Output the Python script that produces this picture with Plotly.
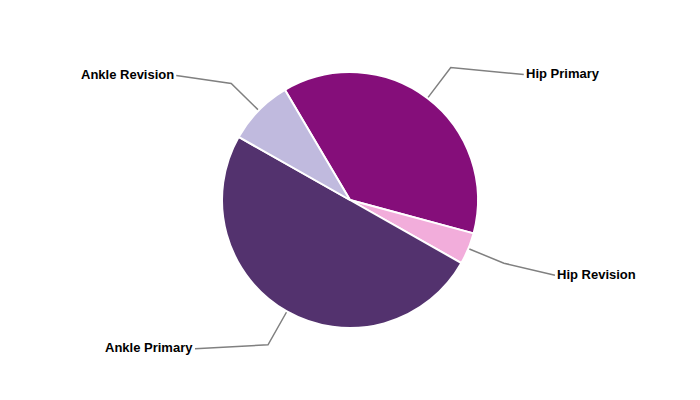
import math
import plotly.graph_objects as go

labels = ["Hip Primary", "Hip Revision", "Ankle Primary", "Ankle Revision"]
values = [37.7, 4.0, 50.0, 8.3]
colors = ["#850E7A", "#F2ADDB", "#53326E", "#C0BADE"]

W, H = 700, 400
OFF = 8  # page body margin in the browser
CX, CY, R = 350 - OFF, 200 - OFF, 128
ROT = -30.6

# label placement nudges (pixels) for the final segment of each leader line
label_dx = [73, 51, 73, 55]
label_dy = [7, 12, 4, -8]

fig = go.Figure(go.Pie(
    labels=labels, values=values, sort=False, direction="clockwise",
    rotation=ROT, textinfo="none", hoverinfo="label+percent",
    marker=dict(colors=colors, line=dict(color="white", width=2)),
    domain=dict(x=[(CX - R) / W, (CX + R) / W], y=[(H - CY - R) / H, (H - CY + R) / H]),
    showlegend=False,
))

def px(x, y):
    return x / W, 1 - y / H

shapes, annotations = [], []
total = sum(values)
acc = 0.0
for lab, v, ddx, dy in zip(labels, values, label_dx, label_dy):
    mid = math.radians(ROT + (acc + v / 2) / total * 360)
    acc += v
    s, c = math.sin(mid), math.cos(mid)
    x0, y0 = CX + (R + 1) * s, CY - (R + 1) * c
    x1, y1 = CX + 1.3 * R * s, CY - 1.3 * R * c
    side = 1 if s > 0 else -1
    x2, y2 = x1 + side * ddx, y1 + dy
    a, b = px(x0, y0); cc, d = px(x1, y1); e, f = px(x2, y2)
    shapes.append(dict(type="path", xref="paper", yref="paper",
                       path=f"M {a},{b} L {cc},{d} L {e},{f}",
                       line=dict(color="#808080", width=1.5)))
    tx, ty = px(x2 + side * 1.5, y2 - 1)
    annotations.append(dict(x=tx, y=ty, xref="paper", yref="paper", text=f"<b>{lab}</b>",
                            showarrow=False, xanchor="left" if side > 0 else "right",
                            yanchor="middle", borderpad=0,
                            font=dict(family="Liberation Sans, Arial", size=13, color="#000000")))

fig.update_layout(width=W, height=H, margin=dict(l=0, r=0, t=0, b=0),
                  paper_bgcolor="white", plot_bgcolor="white",
                  shapes=shapes, annotations=annotations)
fig.write_html("out.html")
